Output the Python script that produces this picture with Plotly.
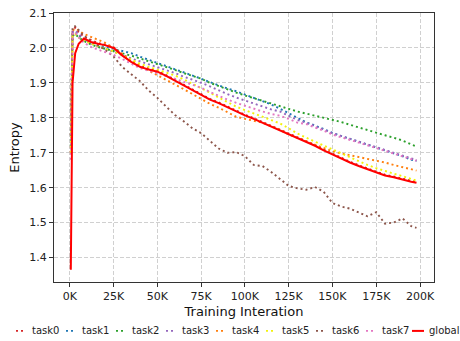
import plotly.graph_objects as go

# ---------------- data ----------------
iters_k = [0.5, 1.5, 3, 5, 8, 12, 16, 20, 25, 30, 35, 40, 45, 50, 55, 60, 65, 70, 75, 80,
           85, 90, 95, 100, 105, 110, 115, 120, 125, 130, 135, 140, 145, 150, 155, 160,
           165, 170, 175, 180, 185, 190, 195, 198]

global_entropy = [1.365, 1.900, 1.985, 2.012, 2.027, 2.017, 2.012, 2.008, 2.000, 1.978, 1.960,
                  1.946, 1.938, 1.932, 1.920, 1.906, 1.893, 1.880, 1.866, 1.852, 1.842, 1.830,
                  1.818, 1.807, 1.797, 1.786, 1.776, 1.765, 1.753, 1.743, 1.730, 1.720, 1.707,
                  1.695, 1.683, 1.672, 1.662, 1.653, 1.645, 1.635, 1.630, 1.623, 1.617, 1.614]

task0 = [1.700, 2.050, 2.058, 2.045, 2.032, 2.022, 2.014, 2.010, 2.002, 1.981, 1.962,
         1.948, 1.940, 1.934, 1.922, 1.908, 1.895, 1.882, 1.868, 1.854, 1.844, 1.832,
         1.820, 1.809, 1.799, 1.788, 1.778, 1.767, 1.755, 1.745, 1.732, 1.722, 1.709,
         1.697, 1.685, 1.674, 1.664, 1.655, 1.647, 1.637, 1.632, 1.625, 1.619, 1.616]

task1 = [1.750, 2.040, 2.045, 2.035, 2.025, 2.015, 2.008, 2.003, 1.998, 1.990, 1.985,
         1.975, 1.966, 1.958, 1.950, 1.940, 1.930, 1.922, 1.912, 1.902, 1.892, 1.884,
         1.876, 1.867, 1.858, 1.849, 1.838, 1.826, 1.813, 1.800, 1.787, 1.778, 1.767,
         1.757, 1.748, 1.740, 1.731, 1.723, 1.715, 1.707, 1.698, 1.690, 1.680, 1.676]

task2 = [1.720, 2.035, 2.040, 2.030, 2.020, 2.010, 2.003, 1.998, 1.990, 1.985, 1.978,
         1.970, 1.962, 1.955, 1.946, 1.937, 1.928, 1.920, 1.912, 1.900, 1.890, 1.880,
         1.872, 1.864, 1.856, 1.848, 1.841, 1.834, 1.826, 1.818, 1.812, 1.806, 1.801,
         1.796, 1.788, 1.780, 1.772, 1.765, 1.758, 1.750, 1.743, 1.735, 1.724, 1.718]

task3 = [1.700, 2.045, 2.050, 2.040, 2.025, 2.012, 2.005, 1.998, 1.990, 1.980, 1.970,
         1.962, 1.953, 1.945, 1.937, 1.928, 1.918, 1.910, 1.900, 1.890, 1.878, 1.868,
         1.858, 1.849, 1.840, 1.831, 1.824, 1.818, 1.806, 1.794, 1.786, 1.777, 1.766,
         1.756, 1.748, 1.739, 1.731, 1.723, 1.715, 1.708, 1.700, 1.692, 1.683, 1.679]

task4 = [1.750, 2.050, 2.055, 2.050, 2.040, 2.032, 2.025, 2.015, 2.000, 1.983, 1.965,
         1.948, 1.935, 1.922, 1.910, 1.895, 1.882, 1.868, 1.853, 1.840, 1.829, 1.815,
         1.803, 1.797, 1.792, 1.786, 1.776, 1.766, 1.752, 1.742, 1.732, 1.722, 1.712,
         1.704, 1.698, 1.693, 1.688, 1.684, 1.678, 1.672, 1.665, 1.659, 1.653, 1.649]

task5 = [1.700, 2.035, 2.040, 2.030, 2.020, 2.012, 2.005, 1.998, 1.990, 1.978, 1.966,
         1.955, 1.946, 1.938, 1.930, 1.921, 1.910, 1.898, 1.885, 1.872, 1.858, 1.845,
         1.832, 1.822, 1.812, 1.802, 1.793, 1.784, 1.770, 1.755, 1.743, 1.732, 1.720,
         1.709, 1.697, 1.686, 1.675, 1.665, 1.656, 1.647, 1.640, 1.633, 1.624, 1.620]

task6 = [1.750, 2.060, 2.062, 2.050, 2.035, 2.020, 2.008, 1.995, 1.975, 1.945, 1.925,
         1.905, 1.878, 1.857, 1.832, 1.808, 1.790, 1.770, 1.756, 1.735, 1.712, 1.700,
         1.702, 1.690, 1.665, 1.662, 1.645, 1.625, 1.605, 1.598, 1.594, 1.602, 1.588,
         1.556, 1.546, 1.540, 1.530, 1.518, 1.530, 1.497, 1.500, 1.512, 1.490, 1.485]

task7 = [1.680, 2.040, 2.045, 2.030, 2.015, 2.003, 1.995, 1.988, 1.980, 1.968, 1.955,
         1.942, 1.935, 1.928, 1.920, 1.912, 1.903, 1.895, 1.886, 1.874, 1.862, 1.852,
         1.843, 1.834, 1.826, 1.818, 1.811, 1.806, 1.797, 1.786, 1.782, 1.773, 1.763,
         1.752, 1.745, 1.737, 1.729, 1.721, 1.713, 1.706, 1.698, 1.690, 1.681, 1.677]

series_names = ["task0", "task1", "task2", "task3", "task4", "task5", "task6", "task7", "global"]
series_values = [task0, task1, task2, task3, task4, task5, task6, task7, global_entropy]
series_colors = ["#d62728", "#1f77b4", "#2ca02c", "#9467bd", "#ff7f0e", "#f2f20c",
                 "#8c564b", "#e377c2", "#ff0000"]

x_tick_vals = [0, 25000, 50000, 75000, 100000, 125000, 150000, 175000, 200000]
x_tick_text = ["0K", "25K", "50K", "75K", "100K", "125K", "150K", "175K", "200K"]
y_tick_vals = [1.4, 1.5, 1.6, 1.7, 1.8, 1.9, 2.0, 2.1]

# ---------------- figure ----------------
W, H = 460, 341
ML, MR, MT, MB = 54, 26, 7, 59
FONT = "DejaVu Sans"
iters = [k * 1000 for k in iters_k]

fig = go.Figure()
for name, vals, col in zip(series_names, series_values, series_colors):
    is_global = name == "global"
    fig.add_trace(go.Scatter(
        x=iters, y=vals, mode="lines", name=name,
        line=dict(color=col, width=2.0 if is_global else 1.9,
                  dash="solid" if is_global else "2px,3px"),
        showlegend=False,
    ))

axis_common = dict(
    showline=True, linecolor="#333333", linewidth=1, mirror=True,
    ticks="outside", ticklen=4, tickcolor="#333333", tickwidth=1,
    showgrid=True, gridcolor="#d0d0d0", gridwidth=0.8, griddash="4px,2px",
    zeroline=False, tickfont=dict(family=FONT, size=11, color="#222222"),
)

fig.update_xaxes(range=[-9100, 208000], tickvals=x_tick_vals, ticktext=x_tick_text,
                 title=dict(text="Training Interation", font=dict(family=FONT, size=13, color="#111111"),
                            standoff=4),
                 **axis_common)
fig.update_yaxes(range=[1.33, 2.1], tickvals=y_tick_vals, tickformat=".1f",
                 title=dict(text="Entropy", font=dict(family=FONT, size=13, color="#111111"),
                            standoff=6),
                 **axis_common)

# ---------------- manual one-row legend below the axes ----------------
pw, ph = W - ML - MR, H - MT - MB


def px_to_paper_x(px):
    return (px - ML) / pw


def px_to_paper_y(py):
    return (H - MB - py) / ph


legend_y = px_to_paper_y(332)
for i, (name, col) in enumerate(zip(series_names, series_colors)):
    is_global = name == "global"
    x0 = 16 + 50 * i - (4 if is_global else 0)
    x1 = x0 + (12 if is_global else 9)
    fig.add_shape(type="line", xref="paper", yref="paper",
                  x0=px_to_paper_x(x0), x1=px_to_paper_x(x1), y0=legend_y, y1=legend_y,
                  line=dict(color=col, width=2.0 if is_global else 1.9,
                            dash="solid" if is_global else "2px,3px"))
    fig.add_annotation(xref="paper", yref="paper", x=px_to_paper_x(x1 + (3 if is_global else 5)),
                       y=legend_y, text=name, showarrow=False, xanchor="left", yanchor="middle",
                       xshift=0, font=dict(family=FONT, size=10, color="#222222"))

fig.update_layout(
    width=W, height=H,
    margin=dict(l=ML, r=MR, t=MT, b=MB, pad=0),
    paper_bgcolor="white", plot_bgcolor="white",
    font=dict(family=FONT),
)

fig.write_html("out.html")
